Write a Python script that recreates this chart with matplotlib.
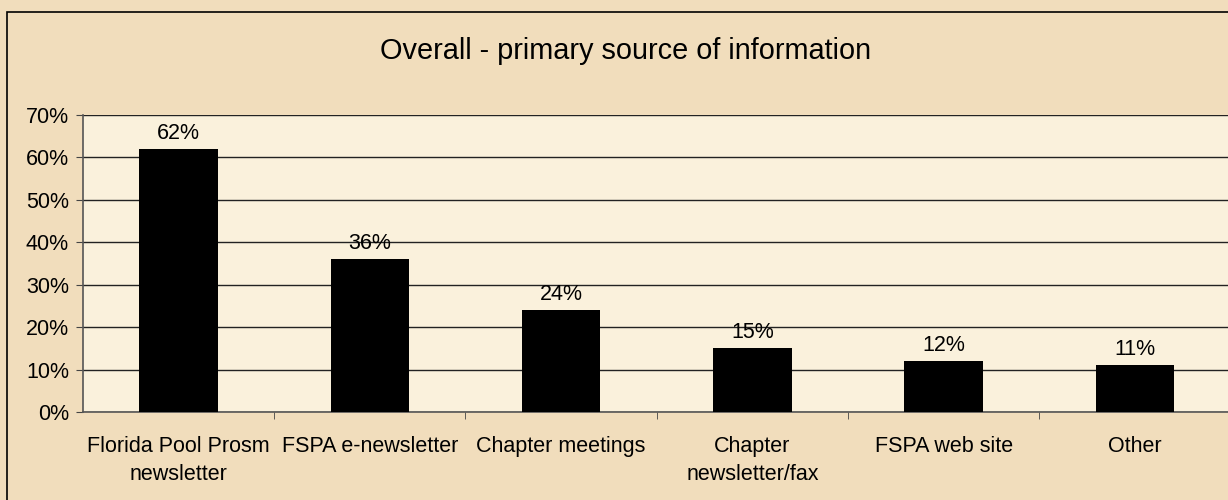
import matplotlib
matplotlib.use("Agg")
import matplotlib.pyplot as plt
from matplotlib.patches import Rectangle
from matplotlib.ticker import MultipleLocator, FixedLocator, PercentFormatter

plt.rcParams['font.family'] = ['Liberation Sans', 'DejaVu Sans']

categories = ["Florida Pool Prosm\nnewsletter", "FSPA e-newsletter", "Chapter meetings",
              "Chapter\nnewsletter/fax", "FSPA web site", "Other"]
shares = [62, 36, 24, 15, 12, 11]
title = "Overall - primary source of information"

outer_bg = "#f1ddbc"
plot_bg = "#faf1dc"

fig = plt.figure(figsize=(12.28, 5), dpi=100)
fig.patch.set_facecolor(outer_bg)

# frame around the whole chart (cropped at right and bottom in the original)
fig.patches.append(Rectangle((7 / 1228, -0.1), 1.2, 1.1 - 12 / 500, transform=fig.transFigure,
                             fill=False, edgecolor="black", linewidth=1.2, zorder=10))

ax = fig.add_axes([83 / 1228, 88 / 500, 1 - 83 / 1228 + 0.002, 297 / 500])
ax.set_facecolor(plot_bg)

x = list(range(len(categories)))
ax.bar(x, shares, width=0.41, color="black", zorder=3)
for xi, v in zip(x, shares):
    ax.text(xi, v + 1.2, f"{v}%", ha="center", va="bottom", fontsize=15.5)

ax.set_xlim(-0.5, len(categories) - 0.5)
ax.set_ylim(0, 70)
ax.yaxis.set_major_locator(MultipleLocator(10))
ax.yaxis.set_major_formatter(PercentFormatter(decimals=0))
ax.yaxis.grid(True, color="#222222", linewidth=1.0, zorder=1)
ax.set_axisbelow(True)

ax.set_xticks(x)
ax.set_xticklabels(categories, fontsize=15.5, linespacing=1.45)
ax.tick_params(axis="x", which="major", length=0, pad=17)
ax.xaxis.set_minor_locator(FixedLocator([i + 0.5 for i in x[:-1]]))
ax.tick_params(axis="x", which="minor", length=5, color="#444444", direction="out")
ax.tick_params(axis="y", length=5, color="#444444", direction="out", labelsize=15.5, pad=5)

for side in ["top", "right"]:
    ax.spines[side].set_visible(False)
for side in ["left", "bottom"]:
    ax.spines[side].set_color("#555555")
    ax.spines[side].set_linewidth(1.2)

fig.text(626 / 1228, 1 - 51 / 500, title, ha="center", va="center", fontsize=20.8)

fig.savefig("out.png", dpi=100, facecolor=fig.get_facecolor())
